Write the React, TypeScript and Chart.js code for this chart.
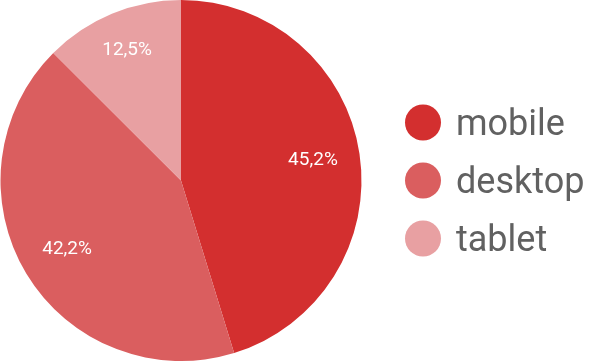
import React, { useEffect, useRef } from "react";
import { Chart, registerables } from "chart.js";

Chart.register(...registerables);

const categories = ["mobile", "desktop", "tablet"];
const shares = [45.2, 42.2, 12.5];
const colors = ["#D32F2F", "#DA5E5F", "#E8A0A2"];

const fmt = (v: number) => v.toFixed(1).replace(".", ",") + "%";

const sliceLabels = {
  id: "sliceLabels",
  afterDatasetsDraw(chart: any) {
    const ctx = chart.ctx;
    const meta = chart.getDatasetMeta(0);
    ctx.save();
    ctx.font = '19px Roboto';
    ctx.fillStyle = "#ffffff";
    ctx.textAlign = "center";
    ctx.textBaseline = "middle";
    meta.data.forEach((arc: any, i: number) => {
      const p = arc.getProps(["x", "y", "startAngle", "endAngle", "outerRadius"], true);
      const mid = (p.startAngle + p.endAngle) / 2;
      const text = fmt(shares[i]);
      const w = ctx.measureText(text).width;
      const h = 20;
      const c = Math.cos(mid), s = Math.sin(mid);
      const proj = Math.abs(c) * w / 2 + Math.abs(s) * h / 2;
      const r = p.outerRadius - 21 - proj;
      ctx.fillText(text, p.x + c * r, p.y + s * r);
    });
    ctx.restore();
  },
};

const sideLegend = {
  id: "sideLegend",
  afterDraw(chart: any) {
    const ctx = chart.ctx;
    const ca = chart.chartArea;
    const cy = (ca.top + ca.bottom) / 2;
    const gap = 58;
    ctx.save();
    ctx.font = '36px Roboto';
    ctx.textAlign = "left";
    ctx.textBaseline = "alphabetic";
    categories.forEach((name, i) => {
      const y = cy + (i - 1) * gap;
      ctx.fillStyle = colors[i];
      ctx.beginPath();
      ctx.arc(423, y, 18, 0, Math.PI * 2);
      ctx.fill();
      ctx.fillStyle = "#616161";
      ctx.fillText(name, 456, y + 12.5);
    });
    ctx.restore();
  },
};

export default function App() {
  const ref = useRef<HTMLCanvasElement>(null);
  useEffect(() => {
    const chart = new Chart(ref.current!, {
      type: "pie",
      data: {
        labels: categories,
        datasets: [
          {
            data: shares,
            backgroundColor: colors,
            borderWidth: 0,
          },
        ],
      },
      options: {
        animation: false,
        responsive: false,
        maintainAspectRatio: false,
        layout: { padding: { left: 0, right: 239, top: 0, bottom: 0 } },
        plugins: {
          legend: { display: false },
          tooltip: { enabled: false },
        },
      },
      plugins: [sliceLabels, sideLegend],
    });
    return () => chart.destroy();
  }, []);
  return (
    <div style={{ position: "fixed", left: 0, top: 0, width: 601, height: 361, background: "#fff" }}>
      <canvas ref={ref} width={601} height={361} style={{ width: 601, height: 361, display: "block" }} />
    </div>
  );
}
